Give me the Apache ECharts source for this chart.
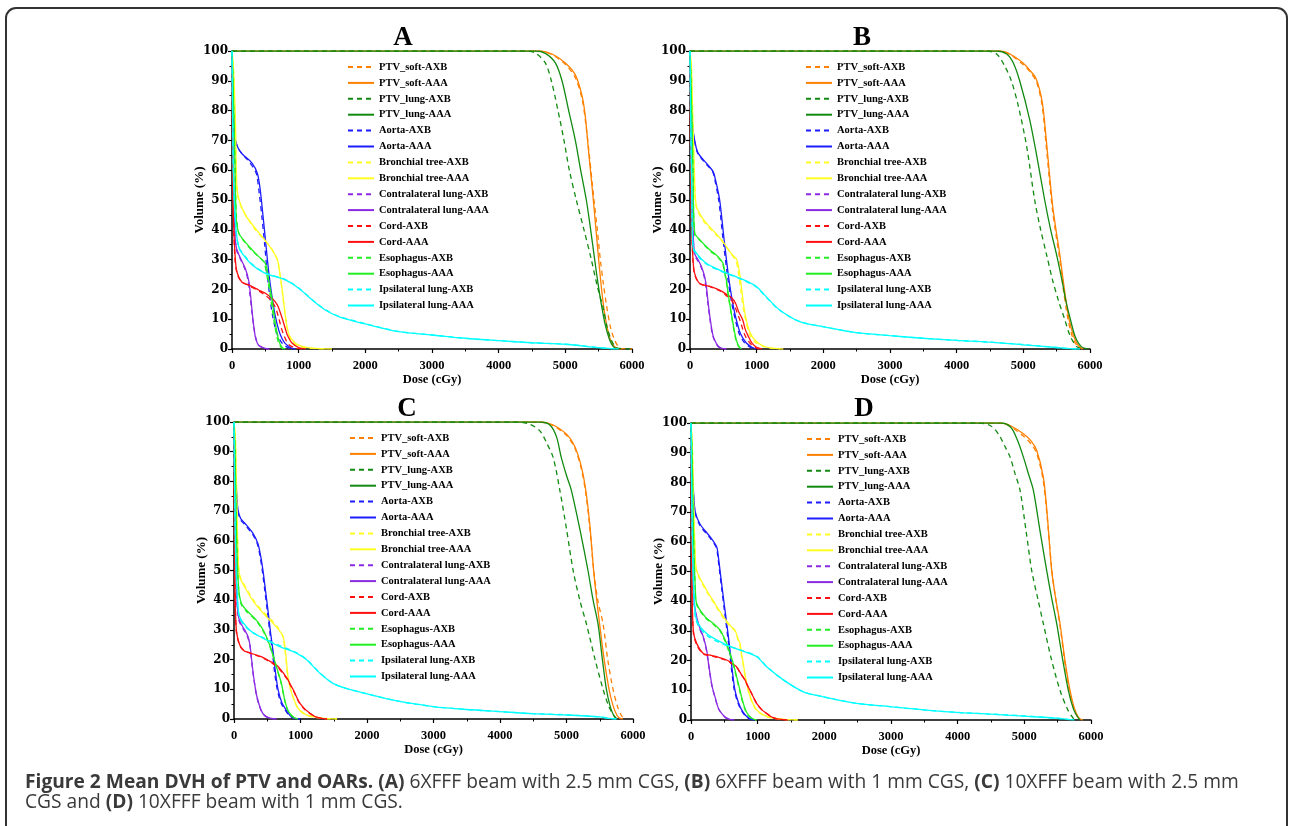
<!DOCTYPE html>
<html>
<head>
<meta charset="utf-8">
<script src="https://cdn.jsdelivr.net/npm/echarts@6/dist/echarts.min.js"></script>
<style>
html,body{margin:0;padding:0;background:#fff;}
#chart{width:1289px;height:826px;}
</style>
</head>
<body>
<div id="chart"></div>
<script>
// ---------- DATA ----------
const seriesNames = ['PTV_soft-AXB','PTV_soft-AAA','PTV_lung-AXB','PTV_lung-AAA','Aorta-AXB','Aorta-AAA','Bronchial tree-AXB','Bronchial tree-AAA','Contralateral lung-AXB','Contralateral lung-AAA','Cord-AXB','Cord-AAA','Esophagus-AXB','Esophagus-AAA','Ipsilateral lung-AXB','Ipsilateral lung-AAA'];
const panelLetters = ['A','B','C','D'];
const xAxisName = 'Dose (cGy)';
const yAxisName = 'Volume (%)';
const captionBold = 'Figure 2 Mean DVH of PTV and OARs.';

// Panel A: [dose cGy, volume %]
const A_soft_AXB = [[0,100],[4600,100],[4800,98.8],[5000,95.5],[5150,91],[5250,84],[5310,75],[5360,65],[5430,50],[5480,40],[5525,30],[5570,22],[5615,15],[5680,7],[5740,3],[5800,0.6],[5850,0.1],[6000,0]];
const A_soft_AAA = [[0,100],[4600,100],[4800,99],[5000,96],[5150,92],[5250,85],[5300,78],[5350,66],[5420,50],[5500,30],[5570,15],[5650,5],[5720,1.2],[5780,0.2],[5850,0]];
const A_lung_AXB = [[0,100],[4400,100],[4550,99.3],[4700,96],[4790,90],[4890,80],[4980,70],[5060,60],[5165,50],[5280,40],[5390,30],[5480,21],[5565,14],[5630,7],[5700,2.5],[5760,0.6],[5850,0.1],[6000,0]];
const A_lung_AAA = [[0,100],[4550,100],[4700,99.2],[4850,96],[4950,90],[5050,80],[5150,70],[5230,60],[5315,50],[5380,40],[5440,30],[5490,22],[5540,15],[5600,8],[5665,3],[5720,0.8],[5780,0]];
const A_aorta_AXB = [[0,100],[15,85],[40,72],[80,68],[150,65.5],[250,63],[330,60.5],[370,58.5],[410,52],[450,44],[490,35],[530,25],[570,17],[610,11],[650,7],[700,3.8],[770,1.5],[850,0.4],[930,0]];
const A_aorta_AAA = [[0,100],[15,85],[40,71],[90,67.5],[150,65.5],[300,62.4],[380,59],[420,54],[450,48],[500,37],[550,26],[600,17.6],[650,11],[700,6.4],[750,3.5],[800,1.8],[900,0.2],[950,0]];
const A_bronch_AXB = [[0,100],[20,95],[45,75],[65,58],[90,51],[150,47],[220,44.5],[350,40],[500,36.3],[600,33.5],[680,30],[720,25],[760,18],[800,11],[840,6],[900,2.5],[1000,1],[1150,0.3],[1400,0]];
const A_bronch_AAA = [[0,100],[20,95],[50,78],[65,60],[85,52],[200,45],[350,40.5],[500,36.4],[600,33.3],[680,30],[720,25],[750,20.5],[790,13],[820,8],[860,4.5],[950,1.9],[1050,0.9],[1200,0.3],[1500,0]];
const A_contra_AXB = [[0,100],[10,80],[25,55],[45,38],[70,33],[120,30.5],[200,26.5],[240,23],[270,18],[300,12],[330,7],[360,3.5],[400,1.2],[480,0.2],[550,0]];
const A_contra_AAA = [[0,100],[10,80],[25,55],[45,38],[65,34],[115,31],[200,27],[250,23],[280,17.6],[315,9.8],[350,4.1],[400,1.3],[500,0.2],[560,0]];
const A_cord_AXB = [[0,100],[8,70],[20,45],[40,32],[60,27],[100,24],[150,22.5],[250,21.3],[400,19.5],[500,18],[580,16.5],[650,14],[700,10.5],[740,7],[780,4.5],[850,1.5],[950,0.3],[1050,0]];
const A_cord_AAA = [[0,100],[8,70],[20,45],[50,30],[80,25.4],[150,22.4],[250,21.5],[400,19.8],[500,18.7],[600,17],[680,14.8],[720,12.5],[760,9.8],[800,6.8],[830,4.7],[900,2],[1000,0.5],[1100,0]];
const A_eso_AXB = [[0,100],[15,90],[40,65],[65,45],[100,39],[150,37],[300,33],[400,31],[480,29],[520,25],[560,20],[600,14],[640,8],[680,3.5],[720,1],[770,0]];
const A_eso_AAA = [[0,100],[15,90],[45,62],[65,43],[100,39],[150,37.2],[300,33.3],[400,31],[500,28.8],[550,23],[600,16.5],[650,8.6],[700,3],[750,0.5],[800,0]];
const A_ipsi_AXB = [[0,100],[8,80],[25,55],[60,40],[100,34],[150,32.5],[300,28.5],[500,25.5],[800,23.3],[1000,20.5],[1200,16.6],[1400,13.2],[1600,11],[2000,8.5],[2500,5.9],[3000,4.7],[3500,3.6],[4000,2.8],[4500,2.1],[5000,1.6],[5500,0.45],[5700,0.1],[5800,0]];
const A_ipsi_AAA = [[0,100],[8,80],[25,55],[60,40],[100,34.4],[150,32.2],[300,28.3],[500,25.4],[800,23.2],[1000,20.4],[1200,16.5],[1400,13.1],[1600,10.9],[2000,8.4],[2500,5.8],[3000,4.7],[3500,3.6],[4000,2.8],[4500,2.1],[5000,1.6],[5500,0.45],[5700,0.1],[5800,0]];

// Panel B
const B_soft_AXB = [[0,100],[4650,100],[4800,98.8],[4995,95.5],[5100,93],[5195,89.8],[5280,82],[5340,69],[5390,57],[5435,47],[5485,39],[5540,31],[5600,20],[5670,10],[5740,3.8],[5810,1],[5880,0]];
const B_soft_AAA = [[0,100],[4650,100],[4800,99],[4995,96],[5100,93.5],[5195,90.5],[5285,82.6],[5345,70],[5395,58],[5440,48],[5490,40],[5545,32],[5610,21],[5685,10],[5760,4],[5830,1],[5900,0]];
const B_lung_AXB = [[0,100],[4450,100],[4600,99],[4720,95],[4820,90],[4920,82],[5050,68],[5170,50],[5260,40],[5345,32],[5440,23],[5530,16],[5620,10],[5700,4.5],[5800,0.8],[5900,0]];
const B_lung_AAA = [[0,100],[4600,100],[4750,99],[4850,96],[4945,90],[5095,77],[5200,65],[5320,50],[5410,40],[5495,32],[5580,23],[5640,16],[5705,10],[5780,4],[5870,0.8],[5980,0]];
const B_aorta_AXB = [[0,100],[15,85],[40,74],[70,69.5],[120,65.5],[245,62],[340,59.5],[370,57],[430,50],[495,37],[565,24],[625,15.5],[680,9.8],[740,5],[820,2],[900,0.6],[980,0]];
const B_aorta_AAA = [[0,100],[15,85],[40,75],[70,70],[120,65.8],[245,62.4],[345,59.6],[380,57],[445,50],[510,37],[580,24],[640,15.5],[695,9.8],[760,5],[845,2],[930,0.6],[1000,0]];
const B_bronch_AXB = [[0,100],[20,95],[45,74],[65,59],[95,47.5],[200,43],[295,40.5],[470,36.5],[620,31.8],[690,29.5],[730,25],[760,20],[800,13.5],[840,9.3],[890,5],[980,2.2],[1100,0.9],[1200,0.3],[1350,0]];
const B_bronch_AAA = [[0,100],[20,95],[45,75],[65,60],[95,48],[200,43.5],[295,41],[470,36.7],[620,32],[700,30],[740,26],[770,21],[810,14],[845,9.8],[900,5.5],[995,2.5],[1100,1],[1200,0.4],[1400,0]];
const B_contra_AXB = [[0,100],[10,80],[25,55],[45,39],[70,31.5],[120,29.5],[170,27.3],[215,24],[240,20.5],[270,15],[300,9.8],[335,5],[365,3],[415,1],[475,0.2],[540,0]];
const B_contra_AAA = [[0,100],[10,80],[25,55],[45,40],[70,32],[120,30],[170,27.7],[220,24.3],[245,21],[275,15],[305,9.8],[340,5],[370,3],[420,1],[480,0.2],[550,0]];
const B_cord_AXB = [[0,100],[8,70],[20,45],[45,29.5],[70,25],[145,22],[300,20.9],[450,19.5],[540,18],[600,17],[660,15],[710,12],[760,9],[800,6],[850,3.5],[920,1.5],[1000,0.3],[1060,0]];
const B_cord_AAA = [[0,100],[8,70],[20,45],[45,30],[70,25.4],[145,22],[300,21],[450,19.7],[550,18.3],[620,17.3],[680,15.5],[730,12.5],[790,9.8],[830,6.5],[870,4.5],[930,2],[1000,0.6],[1080,0]];
const B_eso_AXB = [[0,100],[15,90],[45,60],[70,38.5],[145,36.5],[295,33],[420,30.8],[490,28.5],[520,25.5],[545,22.5],[570,18.5],[595,15],[620,11.5],[645,8],[670,5],[695,2.6],[730,0.8],[770,0]];
const B_eso_AAA = [[0,100],[15,90],[45,60],[70,39],[145,36.7],[295,33.3],[420,31],[495,28.8],[520,26],[545,23.2],[570,19],[595,15.4],[620,12],[645,8.6],[670,5.5],[695,3],[730,1],[770,0]];
const B_ipsi_AXB = [[0,100],[8,80],[25,55],[45,33.8],[95,31.8],[245,28.5],[495,25.8],[745,23.6],[995,20.8],[1145,17.3],[1345,13],[1645,9.2],[1995,7.5],[2495,5.5],[3000,4.5],[3495,3.6],[4000,2.9],[4495,2.3],[4995,1.5],[5495,0.5],[5700,0.1],[5850,0]];
const B_ipsi_AAA = [[0,100],[8,80],[25,55],[45,34.4],[95,32.2],[245,28.8],[495,26],[745,23.8],[995,21],[1145,17.5],[1345,13.1],[1645,9.2],[1995,7.5],[2495,5.5],[3000,4.5],[3495,3.6],[4000,2.9],[4495,2.3],[4995,1.4],[5495,0.5],[5700,0.1],[5850,0]];

// Panel C
const C_soft_AXB = [[0,100],[4600,100],[4800,98.8],[4998,95.5],[5120,91.5],[5220,84.5],[5290,76],[5348,65],[5410,50],[5470,40],[5550,32],[5620,20],[5700,10],[5770,4],[5830,1],[5880,0]];
const C_soft_AAA = [[0,100],[4600,100],[4800,99],[4998,96],[5120,92],[5223,85],[5290,77],[5348,66],[5408,50],[5450,41],[5498,32],[5560,21],[5640,10],[5700,4.5],[5760,1.2],[5800,0.3],[5850,0]];
const C_lung_AXB = [[0,100],[4250,100],[4450,99.2],[4600,97],[4700,93],[4800,88],[4900,77],[5000,64],[5100,50],[5200,40],[5300,32],[5430,20],[5550,10],[5640,4],[5710,1.2],[5760,0]];
const C_lung_AAA = [[0,100],[4600,100],[4750,99],[4850,95],[4922,88],[5000,82],[5073,77],[5200,64],[5323,50],[5400,40],[5474,32],[5540,20],[5600,10],[5660,4],[5710,1.2],[5750,0]];
const C_aorta_AXB = [[0,100],[15,87],[40,75],[60,70],[100,67],[160,65.5],[285,62],[350,59],[390,55],[425,50],[465,43],[500,36.5],[540,29],[575,23],[612,15.5],[650,10],[705,5.5],[770,3],[840,1],[910,0.2],[990,0]];
const C_aorta_AAA = [[0,100],[15,88],[40,76],[60,70.4],[100,67.5],[160,66],[285,62.5],[360,59],[400,55],[436,50],[475,43],[511,36.5],[550,29],[586,23],[625,15.5],[662,10],[720,5.5],[787,3],[850,1],[920,0.2],[1000,0]];
const C_bronch_AXB = [[0,100],[20,95],[40,75],[60,56],[85,48.5],[185,44],[310,39.5],[486,35],[637,31.5],[730,28],[770,22.5],[805,15],[845,10.5],[880,7.8],[935,4.7],[980,3],[1070,1.5],[1180,0.7],[1350,0.2],[1550,0]];
const C_bronch_AAA = [[0,100],[20,95],[40,75],[60,56],[85,48],[185,43.5],[310,39],[486,34.5],[637,31],[737,27.8],[777,22],[812,14.3],[850,10],[887,7.5],[940,4.5],[987,3],[1080,1.5],[1188,0.8],[1350,0.2],[1550,0]];
const C_contra_AXB = [[0,100],[10,80],[25,55],[45,39.5],[60,35],[85,32.5],[160,29.5],[210,27.3],[240,24.5],[258,21],[283,16],[308,12],[338,8],[383,4.3],[428,2],[483,0.8],[555,0.2],[630,0]];
const C_contra_AAA = [[0,100],[10,80],[25,55],[45,40],[60,35.6],[85,33],[160,30],[210,27.8],[240,25],[260,21],[285,16],[310,12],[340,8],[386,4.3],[430,2],[486,0.8],[560,0.2],[640,0]];
const C_cord_AXB = [[0,100],[5,70],[15,45],[35,29.5],[85,24.8],[150,23],[210,22.4],[300,21.7],[411,20.8],[536,19.3],[600,18.4],[662,17.3],[740,15.2],[812,13],[850,11.3],[890,9.8],[940,7.2],[990,5.2],[1060,3.3],[1140,1.9],[1220,0.8],[1300,0.3],[1400,0]];
const C_cord_AAA = [[0,100],[5,70],[15,45],[35,30],[85,25],[150,23],[210,22.5],[300,21.8],[411,21],[536,19.5],[600,18.7],[662,17.7],[740,15.5],[812,13.2],[850,11.5],[887,10],[940,7.5],[987,5.4],[1060,3.5],[1138,2],[1220,0.8],[1300,0.3],[1400,0]];
const C_eso_AXB = [[0,100],[15,90],[40,60],[70,43.5],[110,38.5],[185,36.3],[336,33],[411,30.6],[486,27.5],[561,23],[637,17.5],[712,11.8],[760,6.5],[800,3.4],[837,1.9],[900,0.5],[960,0]];
const C_eso_AAA = [[0,100],[15,90],[40,60],[70,44],[110,39],[185,36.7],[336,33.3],[411,31],[486,27.8],[561,23.3],[637,17.7],[712,12],[762,6.5],[800,3.5],[837,2],[900,0.5],[960,0]];
const C_ipsi_AXB = [[0,100],[8,80],[25,55],[50,41.5],[85,34],[235,29.8],[436,27.4],[687,24.7],[937,22.4],[1088,20.1],[1288,15.6],[1489,12],[1700,10.2],[1940,8.8],[2491,5.9],[2992,4.2],[3494,3.2],[3995,2.5],[4496,1.8],[4997,1.4],[5499,0.7],[5650,0.2],[5750,0]];
const C_ipsi_AAA = [[0,100],[8,80],[25,55],[50,42],[85,34.5],[235,30],[436,27.2],[687,24.4],[937,22.2],[1088,20],[1288,15.5],[1489,12],[1700,10.2],[1940,8.8],[2491,5.9],[2992,4.2],[3494,3.2],[3995,2.5],[4496,1.8],[4997,1.35],[5499,0.7],[5650,0.2],[5750,0]];

// Panel D
const D_soft_AXB = [[0,100],[4650,100],[4800,98.7],[4985,95.6],[5100,93],[5185,89.8],[5280,81],[5340,69],[5415,50],[5475,40],[5540,31],[5610,19],[5680,9],[5745,3.5],[5810,0.8],[5880,0]];
const D_soft_AAA = [[0,100],[4650,100],[4800,99],[4985,96.4],[5100,94],[5185,90.8],[5285,81.8],[5340,70],[5410,50.4],[5470,41],[5535,32.5],[5610,20],[5685,10],[5750,4],[5810,1],[5860,0]];
const D_lung_AXB = [[0,100],[4300,100],[4500,99],[4620,96],[4700,92.5],[4785,88.6],[4860,83],[4935,77.4],[5030,63],[5110,50.4],[5200,41],[5285,32.5],[5400,21],[5535,10],[5650,3.5],[5720,1],[5760,0]];
const D_lung_AAA = [[0,100],[4650,100],[4800,98.5],[4900,94],[4985,88.6],[5060,83],[5135,77.4],[5240,63],[5335,50.4],[5410,41],[5485,32.5],[5570,21],[5660,10],[5740,3.5],[5800,1],[5835,0]];
const D_aorta_AXB = [[0,100],[15,87],[40,75],[65,69.5],[135,65.5],[285,61.3],[380,58],[402,55],[427,50.4],[462,44],[500,37],[540,30],[575,23.5],[610,16.5],[650,10],[700,6],[750,3.4],[810,1.5],[875,0.4],[950,0]];
const D_aorta_AAA = [[0,100],[15,88],[40,76],[65,70],[135,66],[285,61.7],[385,58.3],[410,55],[435,50.4],[470,44],[510,37],[550,30],[585,23.5],[620,16.5],[660,10],[710,6],[760,3.4],[820,1.5],[885,0.4],[960,0]];
const D_bronch_AXB = [[0,100],[20,92],[40,72],[60,57],[85,50],[235,43.2],[360,38.8],[485,34.3],[600,31.2],[660,30],[705,27],[730,25.5],[755,22],[780,19],[815,14],[855,10],[915,6],[980,3.3],[1075,1.7],[1180,0.8],[1400,0.2],[1600,0]];
const D_bronch_AAA = [[0,100],[20,92],[40,72],[60,58],[85,50.4],[235,43.7],[360,39.2],[485,34.8],[600,31.5],[660,30.3],[710,27],[735,25.8],[760,22],[785,19],[820,14],[860,10],[920,6],[985,3.4],[1080,1.8],[1185,0.9],[1400,0.2],[1600,0]];
const D_contra_AXB = [[0,100],[10,80],[25,55],[45,39.5],[110,32],[185,27.7],[233,23.3],[258,19.5],[283,15.6],[318,11],[358,7.8],[408,4],[458,2.2],[518,0.8],[580,0.2],[640,0]];
const D_contra_AAA = [[0,100],[10,80],[25,55],[45,40],[110,32.5],[185,28],[235,23.5],[260,19.5],[285,15.7],[320,11],[360,7.8],[410,4],[460,2.2],[520,0.8],[585,0.2],[650,0]];
const D_cord_AXB = [[0,100],[5,70],[15,45],[35,29.5],[85,25.3],[185,22.2],[300,21.6],[385,21.1],[535,20],[620,18.8],[685,17.7],[750,15.4],[810,13.4],[850,11.5],[890,9.8],[945,7.3],[990,5.4],[1065,3.4],[1140,2.1],[1215,1],[1290,0.4],[1450,0]];
const D_cord_AAA = [[0,100],[5,70],[15,45],[35,30],[85,25.8],[185,22.4],[300,21.8],[385,21.3],[535,20.2],[620,19],[685,17.9],[750,15.5],[810,13.5],[850,11.5],[885,10],[940,7.5],[985,5.6],[1060,3.5],[1135,2.2],[1210,1],[1285,0.4],[1450,0]];
const D_eso_AXB = [[0,100],[15,90],[40,60],[65,43.5],[85,38.8],[210,34.5],[335,32.2],[435,30],[485,27.8],[530,25.5],[580,22.3],[630,18.8],[705,12.2],[745,8.4],[780,5.5],[815,3.2],[855,1.6],[915,0.5],[980,0]];
const D_eso_AAA = [[0,100],[15,90],[40,60],[65,44],[85,39.2],[210,34.8],[335,32.5],[435,30.3],[490,28],[535,25.8],[585,22.5],[635,19],[710,12.3],[750,8.5],[785,5.6],[820,3.3],[860,1.7],[920,0.5],[985,0]];
const D_ipsi_AXB = [[0,100],[8,80],[25,55],[50,39.5],[85,33],[235,28.5],[485,25.5],[735,23.6],[985,21.5],[1135,18],[1385,13.5],[1685,9.5],[1985,7.8],[2485,5.6],[2985,4.5],[3485,3.4],[4035,2.5],[4485,2],[4985,1.4],[5485,0.6],[5650,0.2],[5750,0]];
const D_ipsi_AAA = [[0,100],[8,80],[25,55],[50,40],[85,33.6],[235,29.1],[485,25.8],[735,23.5],[985,21.3],[1135,17.9],[1385,13.5],[1685,9.5],[1985,7.8],[2485,5.6],[2985,4.5],[3485,3.4],[4035,2.5],[4485,2],[4985,1.3],[5485,0.6],[5650,0.2],[5750,0]];

const panelSeries = [
  [A_soft_AXB,A_soft_AAA,A_lung_AXB,A_lung_AAA,A_aorta_AXB,A_aorta_AAA,A_bronch_AXB,A_bronch_AAA,A_contra_AXB,A_contra_AAA,A_cord_AXB,A_cord_AAA,A_eso_AXB,A_eso_AAA,A_ipsi_AXB,A_ipsi_AAA],
  [B_soft_AXB,B_soft_AAA,B_lung_AXB,B_lung_AAA,B_aorta_AXB,B_aorta_AAA,B_bronch_AXB,B_bronch_AAA,B_contra_AXB,B_contra_AAA,B_cord_AXB,B_cord_AAA,B_eso_AXB,B_eso_AAA,B_ipsi_AXB,B_ipsi_AAA],
  [C_soft_AXB,C_soft_AAA,C_lung_AXB,C_lung_AAA,C_aorta_AXB,C_aorta_AAA,C_bronch_AXB,C_bronch_AAA,C_contra_AXB,C_contra_AAA,C_cord_AXB,C_cord_AAA,C_eso_AXB,C_eso_AAA,C_ipsi_AXB,C_ipsi_AAA],
  [D_soft_AXB,D_soft_AAA,D_lung_AXB,D_lung_AAA,D_aorta_AXB,D_aorta_AAA,D_bronch_AXB,D_bronch_AAA,D_contra_AXB,D_contra_AAA,D_cord_AXB,D_cord_AAA,D_eso_AXB,D_eso_AAA,D_ipsi_AXB,D_ipsi_AAA]
];

// ---------- STYLE / LAYOUT ----------
const structColors = ['#FF8000','#128A12','#1C1CFF','#FFFF22','#8A2BE2','#FF1010','#22EE22','#00FFFF'];
const grids = [
  {left:232, top:51, width:400, height:298},
  {left:690, top:51, width:400, height:298},
  {left:234, top:422, width:399, height:297},
  {left:691, top:423, width:400, height:297}
];
const legendPos = [
  {left:347, top:61},
  {left:805, top:61},
  {left:349, top:432},
  {left:806, top:433}
];
const letterPos = [[403,38],[862,38],[407,409],[864,409]];
const serif = '"Liberation Serif","Times New Roman",serif';
const wideSerif = '"DejaVu Serif",serif';

const chart = echarts.init(document.getElementById('chart'), null, {renderer:'canvas'});

const xAxes = [], yAxes = [], series = [], legends = [], graphics = [];
grids.forEach((g, p) => {
  xAxes.push({
    gridIndex:p, type:'value', min:0, max:6000, interval:1000,
    name:xAxisName, nameLocation:'middle', nameGap:24, nameMoveOverlap:false,
    nameTextStyle:{fontFamily:serif, fontWeight:'bold', fontSize:12.5, color:'#000'},
    axisLine:{show:true, onZero:false, lineStyle:{color:'#000', width:1.5}},
    axisTick:{show:true, inside:false, length:4, lineStyle:{color:'#000', width:1.2}},
    minorTick:{show:true, splitNumber:2, length:2.5, lineStyle:{color:'#000', width:1}},
    axisLabel:{fontFamily:serif, fontWeight:'bold', fontSize:12.5, color:'#000', margin:10, formatter:v => String(v)},
    splitLine:{show:false}
  });
  yAxes.push({
    gridIndex:p, type:'value', min:0, max:100, interval:10,
    name:yAxisName, nameLocation:'middle', nameGap:26, nameMoveOverlap:false,
    nameTextStyle:{fontFamily:serif, fontWeight:'bold', fontSize:13, color:'#000'},
    axisLine:{show:true, onZero:false, lineStyle:{color:'#000', width:1.5}},
    axisTick:{show:true, inside:false, length:4, lineStyle:{color:'#000', width:1.2}},
    minorTick:{show:true, splitNumber:2, length:2.5, lineStyle:{color:'#000', width:1}},
    axisLabel:{fontFamily:wideSerif, fontWeight:'bold', fontSize:12, color:'#000', margin:4, formatter:v => String(v)},
    splitLine:{show:false}
  });
  panelSeries[p].forEach((data, i) => {
    const dashed = (i % 2 === 0);
    series.push({
      type:'line', name:seriesNames[i], xAxisIndex:p, yAxisIndex:p,
      data:data, showSymbol:false, symbol:'none',
      smooth:0.3,
      clip:true, silent:true, animation:false,
      lineStyle:{color:structColors[Math.floor(i/2)], width:1.3, type: dashed ? [5,4] : 'solid'},
      itemStyle:{color:structColors[Math.floor(i/2)]}
    });
  });
  legends.push({
    orient:'vertical', left:legendPos[p].left, top:legendPos[p].top,
    data:seriesNames, selectedMode:false,
    itemWidth:26, itemHeight:12, itemGap:3.9, padding:0,
    itemStyle:{opacity:0, borderWidth:0},
    textStyle:{fontFamily:serif, fontWeight:'bold', fontSize:10.5, color:'#000', lineHeight:12}
  });
  graphics.push({
    type:'text', x:letterPos[p][0], y:letterPos[p][1],
    style:{text:panelLetters[p], font:'bold 27px ' + serif, fill:'#000', textAlign:'center', textVerticalAlign:'middle'}
  });
});

graphics.push({
  type:'rect', shape:{x:6, y:8, width:1281, height:900, r:10},
  style:{fill:'none', stroke:'#333', lineWidth:2}, silent:true
});
const capRich = {b:{fontFamily:'"Open Sans", sans-serif', fontWeight:'bold', fontSize:19.2, color:'#1a1a1a'}};
graphics.push({
  type:'text', x:25, y:783,
  style:{
    text:'{b|' + captionBold + '} {b|(A)} 6XFFF beam with 2.5 mm CGS, {b|(B)} 6XFFF beam with 1 mm CGS, {b|(C)} 10XFFF beam with 2.5 mm',
    font:'19.2px "Open Sans", sans-serif', fill:'#3a3a3a', textVerticalAlign:'middle', rich:capRich
  }
});
graphics.push({
  type:'text', x:25, y:803,
  style:{
    text:'CGS and {b|(D)} 10XFFF beam with 1 mm CGS.',
    font:'19.2px "Open Sans", sans-serif', fill:'#3a3a3a', textVerticalAlign:'middle', rich:capRich
  }
});

chart.setOption({
  backgroundColor:'#fff',
  animation:false,
  grid:grids,
  xAxis:xAxes,
  yAxis:yAxes,
  legend:legends,
  series:series,
  graphic:graphics
});
</script>
</body>
</html>
